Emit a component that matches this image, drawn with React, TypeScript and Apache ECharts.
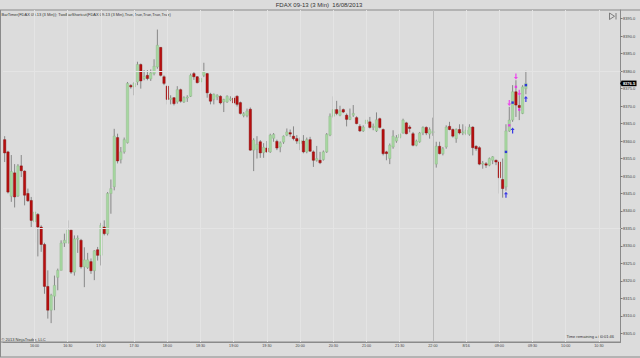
import React, { useEffect, useRef } from "react";
import * as echarts from "echarts";

const tickLabels = ["16:00","16:30","17:00","17:30","18:00","18:30","19:00","19:30","20:00","20:30","21:00","21:30","22:00","8/16","09:00","09:30","10:00","10:30"];
const firstLabelBar = 9;
const barsPerLabel = 10;
const categoryCount = 186;
const sessionBreakBar = 129;

const opens = [
8360.4,8356.9,8344.2,8350.9,8344.3,8352.9,8351.4,8345.0,8343.0,8336.9,
8339.0,8335.4,8330.4,8318.4,8311.6,8315.6,8321.0,8323.0,8330.8,8330.8,
8334.5,8322.5,8332.0,8331.6,8324.0,8323.8,8325.5,8322.9,8328.9,8327.3,
8335.4,8333.5,8345.0,8346.9,8361.0,8354.7,8356.9,8359.5,8375.9,8375.5,
8376.9,8381.9,8377.9,8378.8,8377.8,8379.3,8381.2,8386.8,8378.4,8375.7,
8371.9,8372.4,8371.2,8374.7,8371.2,8372.4,8372.8,8379.3,8378.4,8376.9,
8378.8,8379.3,8373.4,8371.9,8372.6,8372.8,8371.2,8371.2,8371.9,8372.3,
8372.8,8371.0,8367.3,8367.3,8369.1,8357.4,8357.6,8359.8,8356.7,8358.0,
8356.9,8360.8,8359.9,8358.3,8359.7,8361.7,8362.4,8361.4,8360.7,8359.3,
8360.0,8356.9,8360.4,8356.9,8354.5,8354.5,8354.7,8356.9,8361.7,8367.1,
8369.0,8367.4,8369.0,8367.4,8366.2,8367.4,8366.7,8364.2,8362.9,8365.0,
8365.5,8363.9,8362.9,8366.4,8363.3,8356.9,8355.0,8358.3,8360.0,8361.0,
8362.3,8365.2,8364.0,8362.1,8358.8,8359.8,8362.3,8363.9,8362.0,8362.5,
8353.4,8358.5,8356.4,8358.3,8364.2,8363.3,8360.7,8363.3,8362.3,8362.1,
8361.9,8364.0,8358.5,8358.1,8353.7,8353.5,8353.1,8354.5,8354.5,8354.0,
8349.0,8346.9,8362.9,8366.0,8374.1,8370.2,8367.9,8375.0
];
const closes = [
8356.6,8345.4,8351.3,8344.0,8352.9,8351.5,8344.5,8342.9,8337.3,8339.7,
8335.4,8330.4,8318.4,8311.6,8315.9,8318.7,8323.0,8330.8,8331.6,8334.5,
8322.5,8332.0,8332.2,8324.0,8326.0,8326.0,8322.9,8328.6,8327.3,8335.9,
8333.5,8345.0,8346.4,8361.4,8354.3,8356.9,8360.4,8376.5,8375.5,8376.5,
8381.9,8377.2,8378.5,8377.9,8379.5,8381.4,8387.4,8378.8,8376.5,8371.9,
8372.3,8370.7,8374.7,8371.4,8372.4,8372.6,8378.8,8378.4,8376.7,8377.9,
8379.8,8373.8,8371.4,8373.4,8373.1,8370.9,8371.9,8372.8,8372.1,8370.9,
8370.5,8367.9,8367.8,8368.6,8357.4,8360.3,8359.1,8356.6,8358.2,8356.9,
8361.7,8361.9,8358.0,8359.5,8361.4,8362.6,8362.0,8360.7,8360.0,8360.2,
8356.9,8360.4,8357.1,8354.5,8355.0,8353.8,8356.9,8361.9,8367.1,8369.0,
8367.9,8368.6,8368.3,8366.2,8366.9,8367.9,8365.0,8362.9,8364.0,8366.0,
8363.9,8364.2,8366.1,8363.9,8356.4,8356.4,8358.8,8361.4,8361.0,8361.9,
8366.0,8362.1,8363.6,8358.8,8360.0,8362.3,8363.9,8362.3,8363.3,8362.7,
8358.5,8356.4,8357.8,8364.0,8363.3,8361.4,8363.3,8362.3,8362.6,8363.1,
8364.0,8358.1,8357.8,8353.4,8353.7,8353.1,8355.0,8355.5,8354.0,8349.5,
8346.4,8362.9,8366.0,8374.1,8370.3,8369.6,8375.5,8376.5
];
const lows = [
8354.0,8345.0,8342.6,8341.0,8344.0,8349.7,8341.6,8342.6,8335.4,8331.0,
8327.0,8328.3,8316.3,8309.2,8307.9,8311.6,8317.3,8323.0,8329.7,8330.6,
8322.0,8321.5,8328.0,8323.5,8318.2,8323.4,8322.0,8320.2,8325.8,8324.4,
8333.0,8333.0,8339.2,8345.9,8353.6,8353.6,8356.4,8359.3,8375.0,8373.1,
8376.0,8375.0,8377.4,8377.4,8377.2,8378.8,8380.7,8378.5,8376.0,8370.5,
8370.5,8370.2,8370.7,8371.0,8370.9,8371.2,8372.6,8377.5,8376.5,8374.3,
8378.3,8372.4,8370.5,8370.5,8371.7,8370.5,8368.3,8370.9,8371.4,8370.5,
8369.9,8367.6,8366.8,8366.8,8357.2,8351.4,8355.0,8355.2,8355.2,8356.6,
8356.6,8359.8,8357.4,8356.8,8359.2,8361.4,8361.2,8360.2,8359.2,8357.4,
8356.5,8356.5,8356.9,8352.6,8354.1,8353.4,8354.4,8356.6,8361.4,8366.6,
8367.4,8367.1,8368.0,8364.2,8366.0,8366.9,8364.8,8362.6,8362.6,8364.5,
8363.6,8363.1,8362.6,8363.6,8355.9,8354.5,8353.4,8357.8,8359.5,8360.7,
8362.1,8361.9,8362.5,8358.5,8358.5,8359.5,8361.7,8361.7,8360.7,8361.5,
8352.4,8356.2,8355.9,8357.8,8363.1,8361.0,8359.5,8361.9,8361.7,8361.7,
8361.5,8355.9,8357.2,8353.1,8352.1,8352.3,8352.8,8353.4,8353.1,8345.0,
8343.8,8345.8,8362.6,8365.5,8366.9,8366.0,8367.7,8373.4
];
const highs = [
8361.4,8357.2,8356.0,8353.4,8353.4,8356.0,8351.6,8346.4,8344.0,8340.2,
8339.4,8335.9,8330.9,8323.0,8316.3,8321.5,8323.5,8331.6,8333.5,8337.3,
8334.5,8333.0,8333.0,8332.0,8329.6,8328.0,8326.4,8328.8,8329.7,8336.6,
8337.3,8345.4,8349.0,8363.5,8362.1,8358.3,8361.0,8376.9,8376.3,8376.9,
8382.7,8382.2,8380.3,8380.3,8380.5,8383.4,8391.9,8386.9,8378.8,8376.0,
8373.1,8372.6,8375.7,8375.0,8372.8,8373.1,8379.3,8379.8,8378.6,8378.4,
8382.4,8379.5,8373.8,8373.6,8373.4,8373.1,8372.1,8373.1,8372.8,8372.8,
8373.1,8371.3,8368.3,8369.3,8369.6,8360.8,8361.4,8360.3,8359.4,8360.0,
8362.1,8362.3,8360.4,8359.9,8361.6,8363.6,8363.3,8364.2,8361.7,8361.0,
8361.7,8361.0,8361.2,8357.3,8358.6,8356.9,8357.3,8362.3,8367.9,8372.8,
8371.5,8370.1,8369.3,8367.9,8369.3,8370.3,8367.1,8364.8,8364.5,8366.4,
8366.9,8365.0,8368.2,8366.7,8363.6,8357.2,8359.3,8363.1,8361.7,8362.3,
8366.4,8365.5,8364.5,8362.6,8360.4,8362.6,8364.2,8364.2,8363.9,8366.7,
8359.8,8359.8,8358.3,8364.5,8365.5,8363.6,8363.6,8364.8,8364.8,8364.2,
8364.8,8364.2,8358.8,8358.5,8354.3,8354.0,8355.3,8355.7,8354.7,8354.5,
8355.0,8364.8,8369.8,8376.0,8377.4,8373.1,8376.0,8380.1
];

const yTicks = [8305,8310,8315,8320,8325,8330,8335,8340,8345,8350,8355,8360,8365,8370,8375,8380,8385,8390,8395];
const yMin = 8302.5;
const yMax = 8397.5;
const gridPrices = [8380, 8335];

const blueUpArrows = [[151, 8344.6], [153, 8363.0], [157, 8372.0]];
const magentaDownArrows = [[152, 8370.9], [154, 8378.5], [155, 8373.8]];
const magentaDots = [[152, 8364.5], [154, 8375.5], [155, 8369.0]];
const blueDots = [[151, 8356.9], [153, 8371.0], [157, 8376.0]];

const FONT = "'Liberation Sans', Arial, sans-serif";
const UP_ARROW = "path://M5,0 L10,5 L6.5,5 L6.5,12 L3.5,12 L3.5,5 L0,5 Z";
const DOWN_ARROW = "path://M5,12 L10,7 L6.5,7 L6.5,0 L3.5,0 L3.5,7 L0,7 Z";
const BLUE = "#1010e6";
const MAGENTA = "#f020f0";

export default function App() {
  const ref = useRef<HTMLDivElement>(null);
  useEffect(() => {
    document.body.style.margin = "0";
    if (!ref.current) return;
    const chart = echarts.init(ref.current, null, { renderer: "svg" });

    const categories: string[] = [];
    for (let i = 0; i < categoryCount; i++) {
      const k = (i - firstLabelBar) / barsPerLabel;
      categories.push(Number.isInteger(k) && k >= 0 && k < tickLabels.length ? tickLabels[k] : "b" + i);
    }
    const isLabel = (i: number) => (i - firstLabelBar) % barsPerLabel === 0 && i >= firstLabelBar && (i - firstLabelBar) / barsPerLabel < tickLabels.length;

    const candleData = opens.map((o, i) => [i, o, closes[i], lows[i], highs[i]]);
    const vLines = categories.map((_, i) => i).filter((i) => isLabel(i) && i !== sessionBreakBar);

    const option: any = {
      animation: false,
      backgroundColor: "#dcdcdc",
      grid: { left: 3, right: 19.5, top: 10, bottom: 16, show: false },
      xAxis: {
        type: "category",
        data: categories,
        boundaryGap: true,
        axisLine: { show: true, lineStyle: { color: "#8a8a8a", width: 1 } },
        axisTick: { show: false },
        splitLine: { show: false },
        axisLabel: {
          interval: (i: number) => isLabel(i),
          fontSize: 3.7,
          color: "#444",
          fontFamily: FONT,
          margin: 2,
        },
      },
      yAxis: {
        type: "value",
        position: "right",
        min: yMin,
        max: yMax,
        axisLine: { show: true, lineStyle: { color: "#8a8a8a", width: 1 } },
        axisTick: { show: true, customValues: yTicks, length: 2, lineStyle: { color: "#777" } },
        splitLine: { show: false },
        axisLabel: {
          customValues: yTicks,
          formatter: (v: number) => v.toFixed(1),
          fontSize: 4,
          color: "#444",
          fontFamily: FONT,
          margin: 2.5,
        },
      },
      series: [
        {
          type: "line",
          data: [],
          silent: true,
          markLine: {
            silent: true,
            symbol: "none",
            label: { show: false },
            data: [
              ...vLines.map((i) => ({ xAxis: i, lineStyle: { color: "#e4e4e4", width: 1, type: "solid" } })),
              ...gridPrices.map((p) => ({ yAxis: p, lineStyle: { color: "#e4e4e4", width: 1, type: "solid" } })),
              { xAxis: sessionBreakBar, lineStyle: { color: "#b9b9b9", width: 1, type: "solid" } },
            ],
          },
        },
        {
          type: "custom",
          data: candleData,
          encode: { x: 0, y: [1, 2, 3, 4] },
          renderItem: (params: any, api: any) => {
            const x = api.value(0);
            const o = api.value(1), c = api.value(2), l = api.value(3), h = api.value(4);
            const pO = api.coord([x, o]);
            const pC = api.coord([x, c]);
            const pL = api.coord([x, l]);
            const pH = api.coord([x, h]);
            const cx = pO[0];
            const up = c >= o;
            const w = 2.4;
            const top = Math.min(pO[1], pC[1]);
            const hgt = Math.max(Math.abs(pO[1] - pC[1]), 1);
            return {
              type: "group",
              children: [
                { type: "line", shape: { x1: cx, y1: pH[1], x2: cx, y2: pL[1] }, style: { stroke: "#7e7e7e", lineWidth: 0.9 } },
                {
                  type: "rect",
                  shape: { x: cx - w / 2, y: top, width: w, height: hgt },
                  style: { fill: up ? "#a6d7a0" : "#b80f0f", stroke: up ? "#8db689" : "#7a0c0c", lineWidth: 0.4 },
                },
              ],
            };
          },
          z: 3,
        },
        {
          type: "scatter",
          data: blueUpArrows,
          symbol: UP_ARROW,
          symbolSize: [4, 6],
          itemStyle: { color: BLUE },
          z: 5,
          silent: true,
        },
        {
          type: "scatter",
          data: magentaDownArrows,
          symbol: DOWN_ARROW,
          symbolSize: [4, 6],
          itemStyle: { color: MAGENTA },
          z: 5,
          silent: true,
        },
        {
          type: "scatter",
          data: magentaDots,
          symbol: "rect",
          symbolSize: 2.4,
          itemStyle: { color: MAGENTA },
          z: 5,
          silent: true,
        },
        {
          type: "scatter",
          data: blueDots,
          symbol: "rect",
          symbolSize: 2.4,
          itemStyle: { color: BLUE },
          z: 5,
          silent: true,
        },
      ],
    };
    chart.setOption(option);

    const lastClose = closes[closes.length - 1];
    const py = chart.convertToPixel({ yAxisIndex: 0 }, lastClose) as number;
    const border = "#8a8a8a";
    chart.setOption({
      graphic: [
        { type: "line", shape: { x1: 0, y1: 10, x2: 640, y2: 10 }, style: { stroke: border, lineWidth: 1 }, silent: true },
        { type: "line", shape: { x1: 0.5, y1: 10, x2: 0.5, y2: 357 }, style: { stroke: border, lineWidth: 1 }, silent: true },
        { type: "line", shape: { x1: 0, y1: 357, x2: 640, y2: 357 }, style: { stroke: border, lineWidth: 1 }, silent: true },
        { type: "line", shape: { x1: 0, y1: 342, x2: 620, y2: 342 }, style: { stroke: border, lineWidth: 1 }, silent: true },
        {
          type: "text", x: 319, y: 4.7, silent: true,
          style: { text: "FDAX 09-13 (3 Min)  16/08/2013", fontSize: 6, fontFamily: FONT, fill: "#333", align: "center", verticalAlign: "middle" },
        },
        {
          type: "text", x: 1.5, y: 14.3, silent: true,
          style: { text: "BarTimer(FDAX 09-13 (3 Min)); TwoBarShortcut(FDAX 09-13 (3 Min),True,True,True,True,True)", fontSize: 4, fontFamily: FONT, fill: "#333", align: "left", verticalAlign: "middle" },
        },
        {
          type: "text", x: 1.5, y: 339.3, silent: true,
          style: { text: "© 2013 NinjaTrader, LLC", fontSize: 4, fontFamily: FONT, fill: "#333", align: "left", verticalAlign: "middle" },
        },
        {
          type: "text", x: 614, y: 336.7, silent: true,
          style: { text: "Time remaining = 00:01:46", fontSize: 4, fontFamily: FONT, fill: "#333", align: "right", verticalAlign: "middle" },
        },
        {
          type: "polygon", silent: true,
          shape: { points: [[609.5, 13], [609.5, 19.5], [614.5, 16.25]] },
          style: { fill: "none", stroke: "#666", lineWidth: 0.8 },
        },
        { type: "line", silent: true, shape: { x1: 616, y1: 13, x2: 616, y2: 19.5 }, style: { stroke: "#666", lineWidth: 0.8 } },
        {
          type: "polygon", silent: true, z: 100,
          shape: { points: [[620, py], [622, py - 2.8], [622, py + 2.8]] },
          style: { fill: "#000" },
        },
        {
          type: "rect", silent: true, z: 100,
          shape: { x: 621.5, y: py - 2.8, width: 15, height: 5.6 },
          style: { fill: "#000" },
        },
        {
          type: "text", silent: true, z: 101, x: 629, y: py,
          style: { text: lastClose.toFixed(1), fontSize: 4, fontFamily: FONT, fill: "#fff", align: "center", verticalAlign: "middle", fontWeight: "bold" },
        },
      ],
    });

    return () => chart.dispose();
  }, []);
  return <div ref={ref} style={{ width: 640, height: 358 }} />;
}
